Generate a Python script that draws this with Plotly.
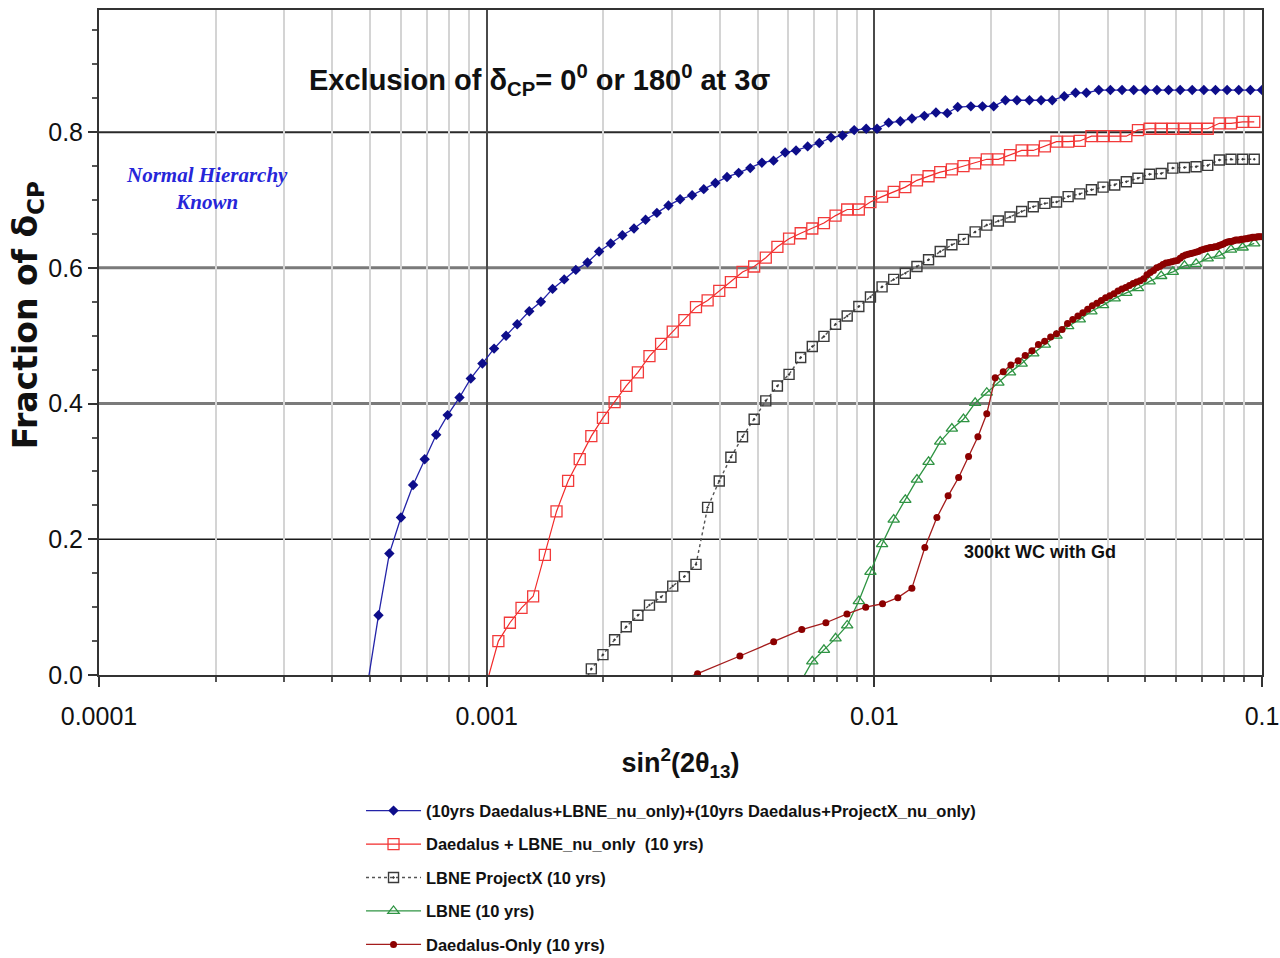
import plotly.graph_objects as go

# ---------------- data ----------------
blue_x = [0.000491, 0.000526, 0.000561, 0.000601, 0.000646, 0.000692, 0.000741, 0.000793, 0.000851, 0.000910, 0.000975,
          0.001045, 0.001122, 0.001199, 0.001288, 0.00138, 0.001479, 0.001585, 0.001698, 0.00182, 0.00195,
          0.002089, 0.002239, 0.002399, 0.00257, 0.002748, 0.002944, 0.003155, 0.003388, 0.003631, 0.00389,
          0.004169, 0.004467, 0.004786, 0.005129, 0.005495, 0.005888, 0.006281, 0.00673, 0.007211, 0.007727,
          0.008279, 0.008872, 0.009528, 0.01016, 0.01089, 0.01167, 0.0125, 0.01346, 0.01442, 0.01542,
          0.01641, 0.01774, 0.01901, 0.02032, 0.02178, 0.02333, 0.02512, 0.02692, 0.02877, 0.0309,
          0.03304, 0.03524, 0.03793, 0.04064, 0.04355, 0.04667, 0.05, 0.05358, 0.05741, 0.06152,
          0.06607, 0.07079, 0.07586, 0.08128, 0.0871, 0.09333, 0.1]
blue_y = [-0.02, 0.088, 0.179, 0.232, 0.280, 0.318, 0.354, 0.383, 0.409, 0.437, 0.459,
          0.481, 0.500, 0.517, 0.536, 0.550, 0.569, 0.583, 0.597, 0.608, 0.624,
          0.636, 0.648, 0.658, 0.671, 0.681, 0.692, 0.701, 0.707, 0.716, 0.725,
          0.734, 0.740, 0.747, 0.755, 0.758, 0.770, 0.773, 0.779, 0.784, 0.792,
          0.795, 0.803, 0.805, 0.805, 0.814, 0.816, 0.820, 0.824, 0.829, 0.828,
          0.837, 0.838, 0.838, 0.838, 0.847, 0.847, 0.847, 0.847, 0.847, 0.853,
          0.858, 0.858, 0.862, 0.862, 0.862, 0.862, 0.862, 0.862, 0.862, 0.862,
          0.862, 0.862, 0.862, 0.862, 0.862, 0.862, 0.862]

red_x = [0.001, 0.001072, 0.001148, 0.00123, 0.001318, 0.001413, 0.001514, 0.001622, 0.001738, 0.001862, 0.001995,
         0.002138, 0.002291, 0.002455, 0.00263, 0.002818, 0.00302, 0.003236, 0.003467, 0.003715, 0.003981,
         0.004266, 0.004571, 0.004898, 0.005248, 0.005623, 0.006026, 0.006457, 0.006918, 0.007413, 0.007943,
         0.008511, 0.00912, 0.009772, 0.01047, 0.01122, 0.01202, 0.01288, 0.0138, 0.01479, 0.01585,
         0.01698, 0.0182, 0.0195, 0.02089, 0.02239, 0.02399, 0.0257, 0.02754, 0.02951, 0.03162,
         0.03388, 0.03631, 0.0389, 0.04169, 0.04467, 0.04786, 0.05129, 0.05495, 0.05888, 0.0631,
         0.06761, 0.07244, 0.07762, 0.08318, 0.08913, 0.0955]
red_y = [-0.012, 0.050, 0.077, 0.099, 0.116, 0.177, 0.241, 0.286, 0.318, 0.352, 0.379,
         0.402, 0.426, 0.446, 0.470, 0.488, 0.506, 0.523, 0.542, 0.552, 0.566,
         0.579, 0.594, 0.602, 0.615, 0.631, 0.643, 0.651, 0.658, 0.666, 0.677,
         0.686, 0.686, 0.697, 0.705, 0.712, 0.719, 0.729, 0.735, 0.741, 0.745,
         0.750, 0.754, 0.760, 0.760, 0.766, 0.773, 0.773, 0.779, 0.786, 0.786,
         0.787, 0.794, 0.794, 0.794, 0.794, 0.803, 0.805, 0.805, 0.805, 0.805,
         0.805, 0.805, 0.813, 0.813, 0.815, 0.815]

gray_x = [0.001738, 0.001862, 0.001995, 0.002138, 0.002291, 0.002455, 0.00263, 0.002818, 0.00302, 0.003236, 0.003467,
          0.003715, 0.003981, 0.004266, 0.004571, 0.004898, 0.005248, 0.005623, 0.006026, 0.006457, 0.006918,
          0.007413, 0.007943, 0.008511, 0.00912, 0.009772, 0.01047, 0.01122, 0.01202, 0.01288, 0.0138,
          0.01479, 0.01585, 0.01698, 0.0182, 0.0195, 0.02089, 0.02239, 0.02399, 0.0257, 0.02754,
          0.02951, 0.03162, 0.03388, 0.03631, 0.0389, 0.04169, 0.04467, 0.04786, 0.05129, 0.05495,
          0.05888, 0.0631, 0.06761, 0.07244, 0.07762, 0.08318, 0.08913, 0.0955]
gray_y = [-0.025, 0.009, 0.030, 0.052, 0.071, 0.088, 0.103, 0.115, 0.131, 0.145, 0.163,
          0.247, 0.286, 0.321, 0.351, 0.377, 0.404, 0.426, 0.443, 0.468, 0.484,
          0.499, 0.517, 0.529, 0.543, 0.557, 0.572, 0.583, 0.592, 0.602, 0.612,
          0.624, 0.634, 0.642, 0.653, 0.663, 0.669, 0.675, 0.683, 0.690, 0.695,
          0.697, 0.705, 0.709, 0.715, 0.719, 0.722, 0.727, 0.732, 0.738, 0.739,
          0.747, 0.748, 0.749, 0.751, 0.759, 0.760, 0.760, 0.760]

green_x = [0.006457, 0.006918, 0.007413, 0.007943, 0.008511, 0.00912, 0.009772, 0.01047, 0.01122, 0.01202, 0.01288,
           0.0138, 0.01479, 0.01585, 0.01698, 0.0182, 0.0195, 0.02089, 0.02239, 0.02399, 0.0257,
           0.02754, 0.02951, 0.03162, 0.03388, 0.03631, 0.0389, 0.04169, 0.04467, 0.04786, 0.05129,
           0.05495, 0.05888, 0.0631, 0.06761, 0.07244, 0.07762, 0.08318, 0.08913, 0.0955]
green_y = [-0.010, 0.020, 0.037, 0.054, 0.073, 0.109, 0.152, 0.193, 0.229, 0.258, 0.288,
           0.314, 0.344, 0.363, 0.377, 0.401, 0.416, 0.431, 0.446, 0.459, 0.474,
           0.487, 0.500, 0.514, 0.524, 0.536, 0.545, 0.555, 0.563, 0.570, 0.580,
           0.588, 0.594, 0.603, 0.606, 0.614, 0.618, 0.627, 0.630, 0.636]

dred_x = [0.0025, 0.0035, 0.0045, 0.0055, 0.0065, 0.0075, 0.0085, 0.0095, 0.0105, 0.0115, 0.0125,
          0.0135, 0.0145, 0.0155, 0.0165, 0.0175, 0.0185, 0.0195, 0.0205, 0.0215, 0.0225,
          0.0235, 0.0245, 0.0255, 0.0265, 0.0275, 0.0285, 0.0295, 0.0305, 0.0315, 0.0325,
          0.0335, 0.0345, 0.0355, 0.0365, 0.0375, 0.0385, 0.0395, 0.0405, 0.0415, 0.0425,
          0.0435, 0.0445, 0.0455, 0.0465, 0.0475, 0.0485, 0.0495, 0.0505, 0.0515, 0.0525,
          0.0535, 0.0545, 0.0555, 0.0565, 0.0575, 0.0585, 0.0595, 0.0605, 0.0615, 0.0625,
          0.0635, 0.0645, 0.0655, 0.0665, 0.0675, 0.0685, 0.0695, 0.0705, 0.0715, 0.0725,
          0.0735, 0.0745, 0.0755, 0.0765, 0.0775, 0.0785, 0.0795, 0.0805, 0.0815, 0.0825,
          0.0835, 0.0845, 0.0855, 0.0865, 0.0875, 0.0885, 0.0895, 0.0905, 0.0915, 0.0925,
          0.0935, 0.0945, 0.0955, 0.0965, 0.0975, 0.0985, 0.0995]
dred_y = [-0.030, 0.002, 0.028, 0.049, 0.067, 0.077, 0.090, 0.100, 0.105, 0.114, 0.128,
          0.188, 0.232, 0.264, 0.291, 0.322, 0.351, 0.385, 0.438, 0.447, 0.457,
          0.463, 0.471, 0.478, 0.487, 0.492, 0.498, 0.503, 0.509, 0.518, 0.524,
          0.529, 0.534, 0.539, 0.544, 0.548, 0.552, 0.556, 0.559, 0.562, 0.566,
          0.569, 0.571, 0.574, 0.577, 0.579, 0.581, 0.584, 0.590, 0.593, 0.596,
          0.600, 0.602, 0.605, 0.607, 0.608, 0.609, 0.610, 0.611, 0.614, 0.617,
          0.619, 0.620, 0.621, 0.622, 0.623, 0.624, 0.626, 0.627, 0.628, 0.629,
          0.630, 0.630, 0.631, 0.631, 0.633, 0.634, 0.635, 0.637, 0.638, 0.639,
          0.639, 0.640, 0.641, 0.641, 0.641, 0.642, 0.642, 0.643, 0.643, 0.644,
          0.644, 0.645, 0.645, 0.645, 0.646, 0.646, 0.646]

series_names = ["(10yrs Daedalus+LBNE_nu_only)+(10yrs Daedalus+ProjectX_nu_only)",
                "Daedalus + LBNE_nu_only  (10 yrs)",
                "LBNE ProjectX (10 yrs)",
                "LBNE (10 yrs)",
                "Daedalus-Only (10 yrs)"]

x_tickvals = [0.0001, 0.001, 0.01, 0.1]
x_ticktext = ["0.0001", "0.001", "0.01", "0.1"]
y_tickvals = [0.0, 0.2, 0.4, 0.6, 0.8]
y_ticktext = ["0.0", "0.2", "0.4", "0.6", "0.8"]
y_grid_vals = [0.2, 0.4, 0.6, 0.8]

title_text = "Exclusion of δ<sub>CP</sub>= 0<sup>0</sup> or 180<sup>0</sup> at 3σ"
x_title = "sin<sup>2</sup>(2θ<sub>13</sub>)"
y_title = "Fraction of δ<sub>CP</sub>"
nh_text = "Normal Hierarchy<br>Known"
wc_text = "300kt WC with Gd"

# ---------------- styles ----------------
ARIAL = "Liberation Sans, Arial, sans-serif"

fig = go.Figure()

styles = [
    dict(line=dict(color="#2323a8", width=1.3),
         marker=dict(symbol="diamond", size=8, color="#0d0d8a", line=dict(width=0))),
    dict(line=dict(color="#f22a2a", width=1.2),
         marker=dict(symbol="square-open", size=11, color="#f23a3a", line=dict(width=1.3))),
    dict(line=dict(color="#555555", width=1.4, dash="dot"),
         marker=dict(symbol="square-open-dot", size=10, color="#3a3a3a", line=dict(width=1.4))),
    dict(line=dict(color="#2f9443", width=1.3),
         marker=dict(symbol="triangle-up-open", size=10, color="#2f9443", line=dict(width=1.3))),
    dict(line=dict(color="#a41c1c", width=1.3),
         marker=dict(symbol="circle", size=7, color="#8c0000", line=dict(width=0))),
]
data = [(blue_x, blue_y), (red_x, red_y), (gray_x, gray_y), (green_x, green_y), (dred_x, dred_y)]

for (xs, ys), name, st in zip(data, series_names, styles):
    fig.add_trace(go.Scatter(x=xs, y=ys, mode="lines+markers", name=name, legendgroup=name,
                             line=st["line"], marker=st["marker"], cliponaxis=True))

# horizontal grid lines with individual styles
hstyles = {0.2: ("#1a1a1a", 1.6), 0.4: ("#7a7a7a", 3), 0.6: ("#7a7a7a", 3), 0.8: ("#2a2a2a", 2)}
for v in y_grid_vals:
    c, w = hstyles[v]
    fig.add_shape(type="line", xref="paper", x0=0, x1=1, yref="y", y0=v, y1=v,
                  line=dict(color=c, width=w), layer="below")

fig.update_layout(
    width=1280, height=958,
    margin=dict(l=99, r=18, t=10, b=283, autoexpand=False),
    paper_bgcolor="white", plot_bgcolor="white",
    showlegend=True,
    legend=dict(x=0.2253, y=-0.178, xanchor="left", yanchor="top",
                font=dict(family=ARIAL, size=16.5, color="#111111", weight="bold"),
                itemwidth=55, tracegroupgap=9, bgcolor="rgba(0,0,0,0)"),
    xaxis=dict(type="log", range=[-4, -1], tickvals=x_tickvals, ticktext=x_ticktext,
               tickfont=dict(family=ARIAL, size=25, color="#111"),
               ticks="outside", ticklen=10, tickwidth=1.5, tickcolor="#333",
               ticklabelstandoff=8,
               showgrid=True, gridcolor="#4a4a4a", gridwidth=2,
               minor=dict(dtick="D1", showgrid=True, gridcolor="#d4d4d4", gridwidth=1.6,
                          ticks="outside", ticklen=5, tickcolor="#555"),
               showline=True, linecolor="#333", linewidth=2, mirror=True, zeroline=False,
               automargin=False,
               title=dict(text=x_title, font=dict(family=ARIAL, size=27, color="#111", weight="bold"),
                          standoff=24)),
    yaxis=dict(range=[0, 0.98], tickvals=y_tickvals, ticktext=y_ticktext,
               tickfont=dict(family=ARIAL, size=25, color="#111"),
               ticks="outside", ticklen=9, tickwidth=1.5, tickcolor="#333",
               showgrid=False, zeroline=False, automargin=False,
               minor=dict(dtick=0.05, ticks="outside", ticklen=5, tickcolor="#555", showgrid=False),
               showline=True, linecolor="#333", linewidth=2, mirror=True),
    annotations=[
        dict(text=title_text, xref="paper", yref="y", x=0.379, y=0.877, xanchor="center",
             yanchor="middle", showarrow=False,
             font=dict(family=ARIAL, size=29, color="#111", weight="bold")),
        dict(text=y_title, xref="paper", yref="y", x=-0.0619, y=0.53, xanchor="center",
             yanchor="middle", textangle=-90, showarrow=False,
             font=dict(family="DejaVu Sans, sans-serif", size=33, color="#111", weight="bold")),
        dict(text=nh_text, xref="paper", yref="y", x=0.093, y=0.7175, xanchor="center",
             yanchor="middle", showarrow=False,
             font=dict(family="Liberation Serif, Times New Roman, serif", size=21, color="#2626d9",
                       weight="bold", style="italic")),
        dict(text=wc_text, xref="paper", yref="y", x=0.809, y=0.181, xanchor="center",
             yanchor="middle", showarrow=False,
             font=dict(family=ARIAL, size=18, color="#111", weight="bold")),
    ],
)

fig.write_html("out.html")
